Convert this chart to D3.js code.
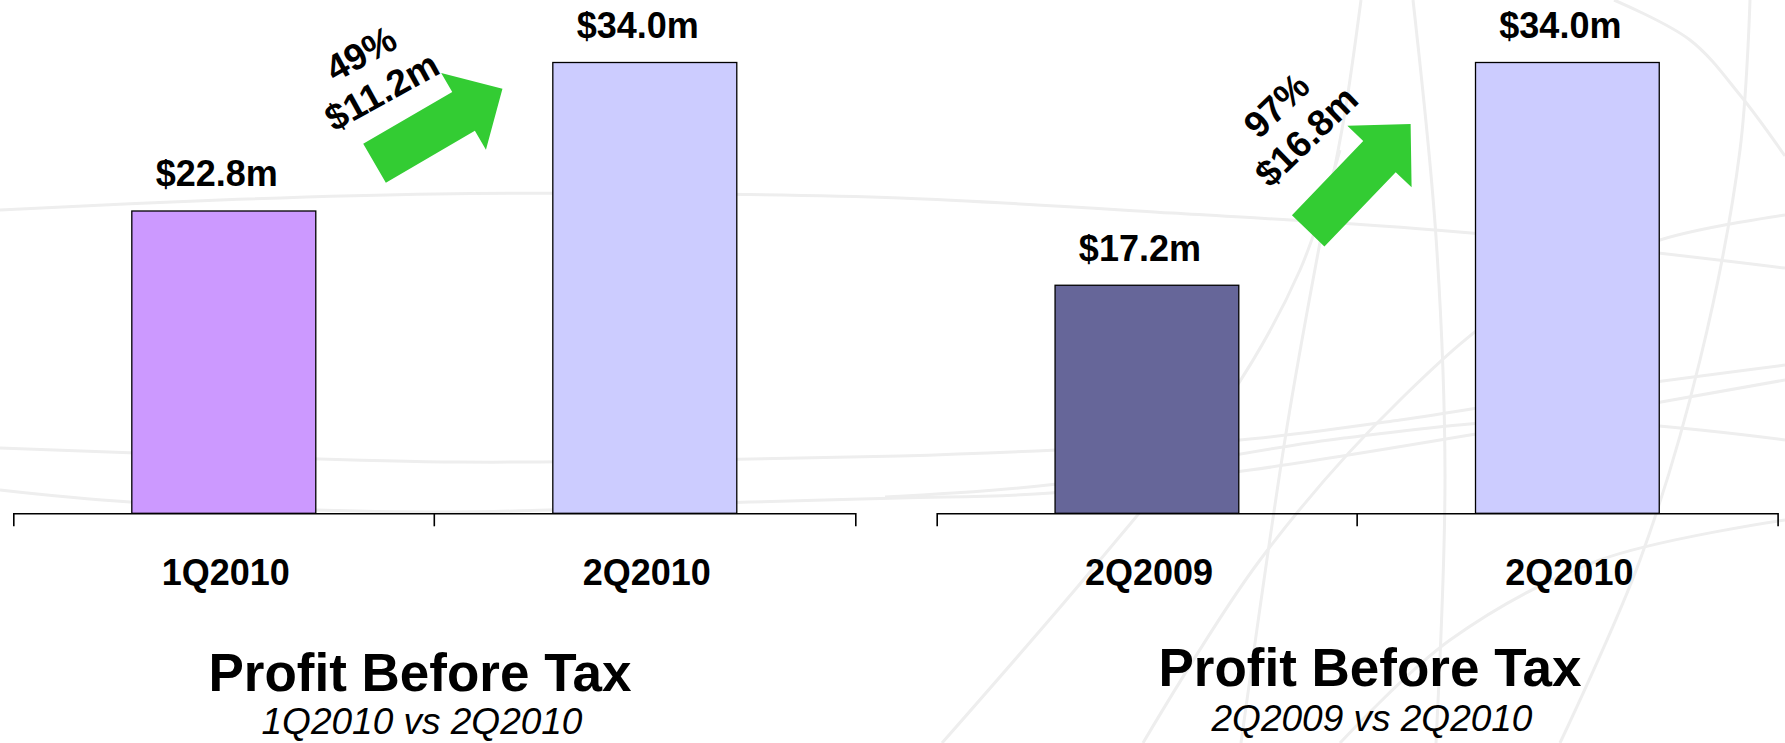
<!DOCTYPE html>
<html>
<head>
<meta charset="utf-8">
<script src="https://cdn.jsdelivr.net/npm/d3@7/dist/d3.min.js"></script>
<style>
  html, body { margin: 0; padding: 0; background: #ffffff; }
  svg { display: block; }
  text { font-family: "Liberation Sans", Arial, Helvetica, sans-serif; fill: #000; }
</style>
</head>
<body>
<svg id="chart" width="1785" height="743"></svg>
<script>
// ---- data ----
const leftCategories  = ["1Q2010", "2Q2010"];
const leftValues      = [22.8, 34.0];
const rightCategories = ["2Q2009", "2Q2010"];
const rightValues     = [17.2, 34.0];
const leftChange      = ["49%", "$11.2m"];
const rightChange     = ["97%", "$16.8m"];
const titles          = ["Profit Before Tax", "Profit Before Tax"];
const subtitles       = ["1Q2010 vs 2Q2010", "2Q2009 vs 2Q2010"];

// ---- styles ----
const leftColors  = ["#CC99FF", "#CCCCFF"];
const rightColors = ["#666699", "#CCCCFF"];
const arrowColor  = "#33CC33";

const svg = d3.select("#chart");
const W = 1785, H = 743;
svg.append("rect").attr("width", W).attr("height", H).attr("fill", "#fff");

// ---- faint globe-like swooshes in the backdrop ----
const swooshes = [
  [[0,210],[220,200],[436,194],[700,194],[900,198],[1172,213],[1459,232],[1785,268]],
  [[0,448],[230,456],[459,462],[700,460],[900,456],[1057,450],[1240,440],[1400,420],[1560,395],[1785,365]],
  [[0,490],[130,502],[450,512],[750,502],[900,498],[1051,493],[1250,470],[1500,430],[1785,380]],
  [[1361,0],[1344,118],[1321,237],[1287,427],[1241,743]],
  [[1413,0],[1436,237],[1445,474],[1436,743]],
  [[1614,0],[1690,40],[1740,95],[1785,156]],
  [[942,743],[1100,560],[1229,398],[1300,270],[1340,150]],
  [[1143,743],[1260,560],[1402,398],[1520,300],[1660,240],[1785,215]],
  [[1340,743],[1450,640],[1600,560],[1785,520]],
  [[1560,743],[1640,560],[1700,360],[1740,150],[1750,0]],
  [[885,497],[1057,484],[1344,438],[1560,420],[1785,440]]
];
const swooshLine = d3.line().curve(d3.curveCatmullRom.alpha(0.5));
svg.append("g").selectAll("path").data(swooshes).join("path")
  .attr("d", swooshLine)
  .attr("fill", "none")
  .attr("stroke", "#eeeeee")
  .attr("stroke-width", 3);

// ---- shared value scale ----
const baseY = 513.3;
const yMax = d3.max(leftValues.concat(rightValues));
const y = d3.scaleLinear().domain([0, yMax]).range([baseY, 62.5]);

const panels = [
  {
    cats: leftCategories, vals: leftValues, colors: leftColors, change: leftChange,
    title: titles[0], subtitle: subtitles[0],
    range: [13.3, 855.3], titleX: 420, titleY: 691, subY: 734,
    arrow: { cx: 438.5, cy: 126, angle: -30.2 },
    note:  { cx: 371.2, cy: 72.2, angle: -29 }
  },
  {
    cats: rightCategories, vals: rightValues, colors: rightColors, change: rightChange,
    title: titles[1], subtitle: subtitles[1],
    range: [936.7, 1777.6], titleX: 1370, titleY: 686, subY: 731,
    arrow: { cx: 1359.4, cy: 177.5, angle: -46.2 },
    note:  { cx: 1291.2, cy: 120.7, angle: -44 }
  }
];

panels.forEach(p => {
  const g = svg.append("g");
  const x = d3.scaleBand()
    .domain(p.cats)
    .range(p.range)
    .paddingInner(0.563)
    .paddingOuter(0.2815);

  // bars
  g.selectAll("rect.bar").data(p.vals).join("rect")
    .attr("class", "bar")
    .attr("x", (d, i) => x(p.cats[i]))
    .attr("y", d => y(d))
    .attr("width", x.bandwidth())
    .attr("height", d => y(0) - y(d))
    .attr("fill", (d, i) => p.colors[i])
    .attr("stroke", "#000")
    .attr("stroke-width", 1.3);

  // value labels
  g.selectAll("text.val").data(p.vals).join("text")
    .attr("class", "val")
    .attr("x", (d, i) => x(p.cats[i]) + x.bandwidth() / 2 - 7)
    .attr("y", d => y(d) - 24.5)
    .attr("text-anchor", "middle")
    .attr("font-weight", "bold")
    .attr("font-size", 36)
    .text(d => "$" + d.toFixed(1) + "m");

  // category axis
  const axis = d3.axisBottom(x)
    .tickSizeInner(0)
    .tickSizeOuter(13)
    .tickPadding(46);
  const ag = g.append("g")
    .attr("transform", `translate(0,${baseY})`)
    .call(axis);
  ag.select(".domain").attr("stroke", "#000").attr("stroke-width", 1.6);
  ag.selectAll("text")
    .attr("x", 2)
    .attr("font-size", 36)
    .attr("font-weight", "bold")
    .attr("font-family", "Liberation Sans, Arial, sans-serif")
    .attr("fill", "#000");
  // divider tick between the two categories
  const mid = (x(p.cats[0]) + x.bandwidth() + x(p.cats[1])) / 2;
  ag.append("line")
    .attr("x1", mid).attr("x2", mid)
    .attr("y1", 0).attr("y2", 13)
    .attr("stroke", "#000").attr("stroke-width", 1.6);

  // growth arrow
  const L = 148, sw = 22.5, hw = 44.5, hl = 45;
  const half = L / 2;
  const pts = [[-half,-sw],[half-hl,-sw],[half-hl,-hw],[half,0],[half-hl,hw],[half-hl,sw],[-half,sw]];
  g.append("polygon")
    .attr("points", pts.map(q => q.join(",")).join(" "))
    .attr("fill", arrowColor)
    .attr("transform", `translate(${p.arrow.cx},${p.arrow.cy}) rotate(${p.arrow.angle})`);

  // growth note
  const ng = g.append("g")
    .attr("transform", `translate(${p.note.cx},${p.note.cy}) rotate(${p.note.angle})`);
  ng.selectAll("text").data(p.change).join("text")
    .attr("x", 0)
    .attr("y", (d, i) => (i === 0 ? -21.5 : 21.5) + 13)
    .attr("text-anchor", "middle")
    .attr("font-weight", "bold")
    .attr("font-size", 37)
    .text(d => d);

  // titles
  g.append("text")
    .attr("x", p.titleX).attr("y", p.titleY)
    .attr("text-anchor", "middle")
    .attr("font-weight", "bold")
    .attr("font-size", 53)
    .text(p.title);
  g.append("text")
    .attr("x", p.titleX + 2).attr("y", p.subY)
    .attr("text-anchor", "middle")
    .attr("font-style", "italic")
    .attr("font-size", 37)
    .text(p.subtitle);
});
</script>
</body>
</html>
